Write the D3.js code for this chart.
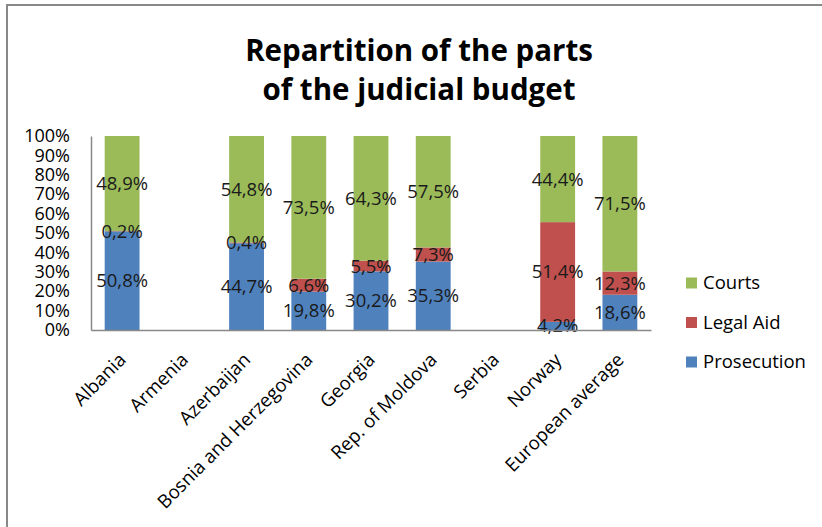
<!DOCTYPE html>
<html>
<head>
<meta charset="utf-8">
<script src="https://cdn.jsdelivr.net/npm/d3@7"></script>
<style>
  html, body { margin: 0; padding: 0; background: #fff; }
  svg { display: block; }
  text { font-family: "Open Sans", "DejaVu Sans", sans-serif; }
</style>
</head>
<body>
<svg id="chart" width="822" height="527"></svg>
<script>
// Budget shares per country (%), null where no data was reported
const categories = ["Albania", "Armenia", "Azerbaijan", "Bosnia and Herzegovina", "Georgia",
  "Rep. of Moldova", "Serbia", "Norway", "European average"];
const prosecution = [50.8, null, 44.7, 19.8, 30.2, 35.3, null, 4.2, 18.6];
const legalAid    = [0.2,  null, 0.4,  6.6,  5.5,  7.3,  null, 51.4, 12.3];
const courts      = [48.9, null, 54.8, 73.5, 64.3, 57.5, null, 44.4, 71.5];
const yTicks = [0, 0.1, 0.2, 0.3, 0.4, 0.5, 0.6, 0.7, 0.8, 0.9, 1];

const seriesKeys = ["Prosecution", "Legal Aid", "Courts"];
const colors = { "Prosecution": "#4F81BD", "Legal Aid": "#C0504D", "Courts": "#9BBB59" };

const rows = categories.map((c, i) => ({
  category: c,
  "Prosecution": prosecution[i],
  "Legal Aid": legalAid[i],
  "Courts": courts[i]
})).filter(r => r["Prosecution"] != null);

const svg = d3.select("#chart");

// outer frame
svg.append("rect")
  .attr("x", 7).attr("y", 5).attr("width", 900).attr("height", 600)
  .attr("fill", "none").attr("stroke", "#888").attr("stroke-width", 2);

// title
const title = svg.append("text")
  .attr("x", 419).attr("text-anchor", "middle")
  .attr("font-weight", "bold").attr("font-size", 29.5).attr("fill", "#000");
title.append("tspan").attr("x", 419).attr("y", 61).text("Repartition of the parts");
title.append("tspan").attr("x", 419).attr("y", 100).text("of the judicial budget");

const plot = { left: 91, right: 651, top: 136, bottom: 330 };

const x = d3.scaleBand()
  .domain(categories)
  .range([plot.left, plot.right])
  .paddingInner(0.44)
  .paddingOuter(0.22);

const y = d3.scaleLinear().domain([0, 1]).range([plot.bottom, plot.top]);

const stacked = d3.stack()
  .keys(seriesKeys)
  .offset(d3.stackOffsetExpand)(rows);

// bars
const layers = svg.append("g").selectAll("g")
  .data(stacked).join("g")
  .attr("fill", d => colors[d.key]);

layers.selectAll("rect")
  .data(d => d)
  .join("rect")
  .attr("x", d => x(d.data.category))
  .attr("width", x.bandwidth())
  .attr("y", d => y(d[1]))
  .attr("height", d => y(d[0]) - y(d[1]));

// value labels centred in each segment
const fmt = v => v.toFixed(1).replace(".", ",") + "%";
const labels = svg.append("g");
stacked.forEach(layer => {
  layer.forEach(d => {
    labels.append("text")
      .attr("x", x(d.data.category) + x.bandwidth() / 2)
      .attr("y", y((d[0] + d[1]) / 2))
      .attr("dy", "0.35em")
      .attr("text-anchor", "middle")
      .attr("font-size", 18.5)
      .attr("fill", "#1a1a1a")
      .text(fmt(d.data[layer.key]));
  });
});

// y axis
const yAxis = svg.append("g")
  .attr("transform", `translate(${plot.left},0)`)
  .call(d3.axisLeft(y).tickValues(yTicks).tickFormat(d3.format(".0%")).tickSize(0).tickPadding(21));
yAxis.select(".domain").attr("stroke", "#888").attr("stroke-width", 1.5);
yAxis.selectAll("text").attr("font-size", 18).attr("fill", "#000")
  .attr("font-family", "'Open Sans', sans-serif");

// x axis
const xAxis = svg.append("g")
  .attr("transform", `translate(0,${plot.bottom})`)
  .call(d3.axisBottom(x).tickSize(0).tickSizeOuter(0));
xAxis.select(".domain").attr("stroke", "#888").attr("stroke-width", 1.5);
xAxis.selectAll("text")
  .attr("font-size", 18.7).attr("fill", "#000")
  .attr("font-family", "'Open Sans', sans-serif")
  .attr("text-anchor", "end")
  .attr("y", 0).attr("dy", 0)
  .attr("transform", "translate(5,31) rotate(-45)");

// legend
const legendItems = ["Courts", "Legal Aid", "Prosecution"];
const legend = svg.append("g");
legendItems.forEach((k, i) => {
  const cy = 283 + i * 39.5;
  legend.append("rect")
    .attr("x", 686).attr("y", cy - 5.5).attr("width", 11).attr("height", 11)
    .attr("fill", colors[k]);
  legend.append("text")
    .attr("x", 703).attr("y", cy).attr("dy", "0.35em")
    .attr("font-size", 18.5).attr("fill", "#000")
    .text(k);
});
</script>
</body>
</html>
